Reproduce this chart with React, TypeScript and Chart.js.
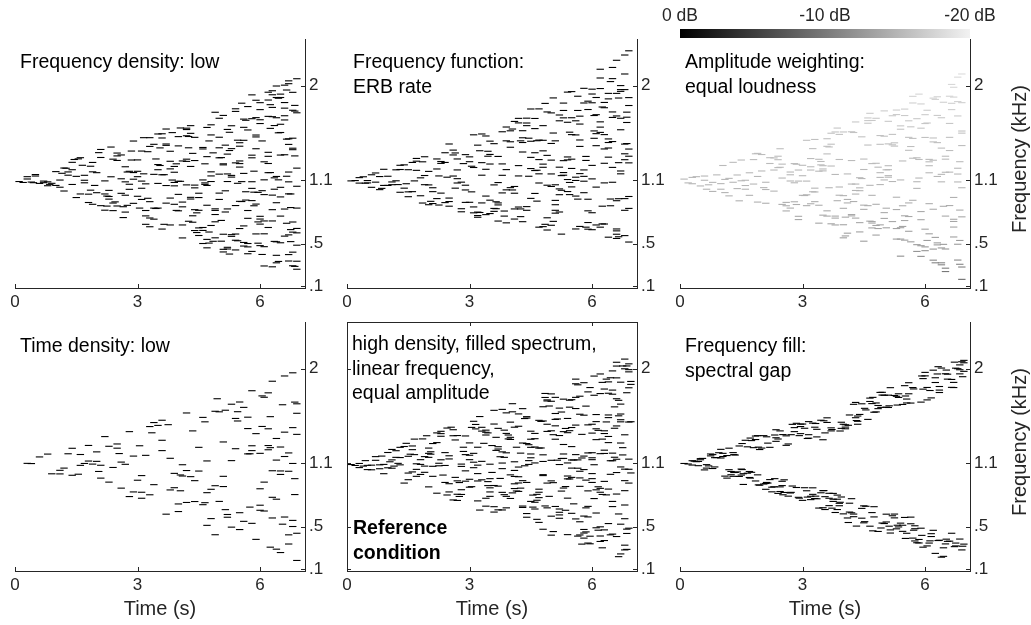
import React, { useEffect, useRef } from "react";
import { Chart, registerables } from "chart.js";

Chart.register(...registerables);

// ---------------- data ----------------
const X_TICKS = [0, 3, 6];
const Y_TICKS = [0.1, 0.5, 1.1, 2];
const Y_TICK_LABELS = [".1", ".5", "1.1", "2"];
const T_MIN = 0;
const T_MAX = 7.1;
const F_MIN = 0.08;
const F_MAX = 2.44;
const COLORBAR_DB = [0, -10, -20];
const COLORBAR_LABELS = ["0 dB", "-10 dB", "-20 dB"];
// equal-loudness weighting read from the grey levels of the third panel
const ELW_HZ = [100, 300, 500, 1000, 1500, 2000, 2500];
const ELW_DB = [-8, -11, -13, -15, -16, -18, -19];

// columns: [time (s), frequency (Hz), frequency (Hz), ...]
const TL_COLS = [[0.1,1090],[0.2,1081],[0.3,1136,1114],[0.4,1085],[0.5,1156,1142],[0.6,1072],[0.7,1079,1094],[0.8,1050,1087],[0.9,1073],[1.0,1053,1184],[1.1,1104,1036],[1.2,1218,1000],[1.3,1181,1150],[1.4,1062,1272,1202],[1.5,938,1139],[1.6,972,1316],[1.7,1102,1078,1149],[1.8,970,891],[1.9,1271,1182,874],[2.0,984,1174],[2.1,861,1394,1318],[2.2,972,818,1096],[2.3,948,1006,923],[2.4,886,814,1302],[2.5,1333,858,1290,1360],[2.6,1116,978,1342],[2.7,960,1230,1087,800],[2.8,1016,1064,1187],[2.9,1474,1112,1175,883],[3.0,950,1295,1136,1187],[3.1,1026,1379,920,1094],[3.2,764,815,1068,684],[3.3,1423,744,899,661,1506],[3.4,1443,838,733,1158],[3.5,1202,1251,1072,838,1541],[3.6,1503,1154,1543,639],[3.7,1433,1588,1052,885,1446],[3.8,678,1377,1282,1210,933],[3.9,1049,1233,874,1081,1178],[4.0,1092,812,968,1516,1428],[4.1,895,1285,850,678,555],[4.2,1583,1596,1058,1281,1524,1302],[4.3,1620,924,1233,940,1547],[4.4,625,1056,1030,823,1289,1509],[4.5,650,979,938,578,817],[4.6,502,1105,654,626,1413,1399],[4.7,1053,1603,461,1326,541,865],[4.8,1182,1628,673,1090,1532,1143],[4.9,556,708,1747,816,831,777],[5.0,980,1690,1410,1160,1315,920,1510],[5.1,1717,1248,447,1258,422,590],[5.2,830,1162,466,1090,1584,450,1350],[5.3,1148,570,1619,586,1402,1132],[5.4,1780,592,533,1267,1755,862,441],[5.5,1458,1425,902,1227,1260,1285,644],[5.6,1167,478,669,1682,512,1481,1604],[5.7,1801,741,502,1579,815,405,470],[5.8,1686,1088,427,1025,1315,909,1912,1340],[5.9,1513,1861,1401,876,593,1696,1531],[6.0,734,686,1772,482,760,1838,1640,1676],[6.1,289,594,1106,472,966,1277,716],[6.2,1174,1261,1937,1863,654,1708,1329,1367],[6.3,823,1705,716,1913,281,1793,961,1951],[6.4,518,1887,1996,889,1138,319,1695,390],[6.5,1555,1919,1035,1887,762,1633,509,944,1341],[6.6,1786,572,1839,2004,1344,1674,829,1714],[6.7,1180,973,397,1495,1442,2018,584,1087,336,2045],[6.8,1406,420,706,610,291,1392,1501,1936,1766],[6.9,1045,334,1217,258,1742,603,486,645,838,2065],
  [0.45,1079],[0.85,1063],[1.25,1216],[1.45,1299],[1.65,1244],[1.85,1235,1008],[2.05,1364],[2.25,952,857],[2.45,897],[2.65,748,851],[2.85,1294,1379],[3.05,838],[3.25,1373,931],[3.45,1304,834],[3.65,1155,684],[3.85,1554,1104],[4.05,1598,1092],[4.25,1517,713,1410],[4.45,606,793],[4.65,1077,1258,1063],[4.85,523,1362],[5.05,524,721,1317],[5.25,1557,402,1384],[5.45,1073,1482,528],[5.65,1671,914,993],[5.85,860,1188,989],[6.05,1003,1475,398],[6.25,1175,1819,1594],[6.45,1552,1106,1880,332],[6.65,1958,1140,1492,694],[6.85,1333,1758,1812,285],
  [1.15,1168],[1.55,1305],[1.95,1053],[2.35,1417,1135],[2.75,1180,864],[3.15,1163,1506],[3.55,1242,1409],[3.95,816,1258],[4.35,1357,704,765],[4.75,611,506,1475],[5.15,1002,1435,801],[5.55,900,1089,1833],[5.95,505,987,707],[6.35,522,1017,1125,1621],[6.75,520,634,972,843]];

const TM_COLS = [[0.1,1096],[0.2,1099],[0.3,1127,1075],[0.4,1135],[0.5,1077,1099],[0.6,1035,1154],[0.7,1171,1084],[0.8,1013,1137],[0.9,1206,1053],[1.0,1053,1140],[1.1,1086,1060],[1.2,1201,1097],[1.3,1244,1204,988],[1.4,1248,1027],[1.5,992,946,1202],[1.6,1271,994],[1.7,1196,1309,1283],[1.8,955,1125],[1.9,1325,1147,1060],[2.0,1186,870,1058],[2.1,994,881,1031],[2.2,1209,1304,928],[2.3,980,1262,1280],[2.4,890,1363,1271],[2.5,856,933,900,1446],[2.6,1342,1142,1388],[2.7,1200,1076,1304,1117],[2.8,1084,803,832],[2.9,1345,892,1055,1010],[3.0,1278,893,1324],[3.1,793,1533,849,1223],[3.2,767,1435,800,751],[3.3,1269,1150,1541,887],[3.4,1522,952,776,1206],[3.5,786,1347,913,1473,1256],[3.6,1058,835,1449,807],[3.7,715,1080,887,1328,868],[3.8,1149,1257,1562,982],[3.9,1011,698,1476,1203,1607],[4.0,1032,1571,1415,1467],[4.1,1660,1043,979,734,830],[4.2,1241,1646,1143,1689,848],[4.3,1505,1572,1460,1370,709],[4.4,1691,1645,817,852,1620],[4.5,930,1213,1472,1319,1778],[4.6,977,1592,1363,1194,1688],[4.7,1779,1163,657,1298,1076,1483],[4.8,1255,662,1225,1481,1381,1620],[4.9,1055,1338,746,1750,630],[5.0,1162,1043,675,1451,1293,1741],[5.1,790,911,1059,817,1476,870],[5.2,1020,801,1721,1226,965,1666],[5.3,1694,1834,1764,1175,1288,1150],[5.4,995,1652,1323,1938,1295,1109],[5.5,1943,1214,1535,1039,1302,1695],[5.6,1532,640,1131,952,1100,1666],[5.7,664,1423,1635,1484,1710,1165],[5.8,984,1974,1139,1093,1835,1200],[5.9,812,922,701,1773,1852,638],[6.0,1966,1115,794,633,1243,1920,1837],[6.1,1887,1544,1430,1037,678,1724],[6.2,657,1556,2155,1972,1606,2072,1656],[6.3,1263,687,1840,1399,1077,1790,1535],[6.4,1494,1408,562,1874,1460,1321,1926],[6.5,2066,1469,1698,1224,1750,2172,1083],[6.6,908,550,622,590,1712,640,1926,2240],[6.7,1163,1962,1581,1945,1690,1190,2000],[6.8,577,2110,1353,1962,1297,817,928,1445,2290],[6.9,1886,835,516,1811,1398,1267,948,1330,2330],
  [0.45,1074],[0.85,1025],[1.25,1061],[1.45,1069],[1.65,1096],[1.85,1277,886],[2.05,902],[2.25,1143,867],[2.45,1131],[2.65,1027,1361],[2.85,1260],[3.05,1235,992],[3.25,1382,796],[3.45,1377,1330],[3.65,832,898],[3.85,762,810],[4.05,1010,1588],[4.25,757,830,1476],[4.45,1140,1501],[4.65,1477,1197,904],[4.85,684,1831],[5.05,1883,1550,712],[5.25,1007,591,1146],[5.45,1558,966,1081],[5.65,1764,1899,923],[5.85,1328,1290,657],[6.05,1570,1716,1500],[6.25,1797,856,688],[6.45,924,860,2038],[6.65,1882,1269,927,566],[6.85,1748,1450,1700,1650]];

const TR_COLS = [[0.1,1113],[0.2,1077],[0.3,1069,1129],[0.4,1136],[0.5,1048],[0.6,1142,1102],[0.7,1059],[0.8,1082,996],[0.9,1153],[1.0,1017,1070],[1.1,1110,985],[1.2,954,1120],[1.3,1272,1083],[1.4,1152,1023],[1.5,1097,1294],[1.6,1102,1017,1052],[1.7,959,1173],[1.8,1066,1298],[1.9,895,1357,1138],[2.0,1190,1346],[2.1,1014,1083,884],[2.2,1316,1261],[2.3,1199,1314,999],[2.4,1297,1222,1330],[2.5,873,1123,1255],[2.6,892,860,811],[2.7,838,1154,1095,1180],[2.8,1260,898,1078],[2.9,729,1094,1199,760],[3.0,1145,959,1244],[3.1,1094,861,964,1481],[3.2,1199,1308,1230,879],[3.3,1489,1027,899,991],[3.4,865,1188,1301,695],[3.5,1209,1240,771,1191],[3.6,1424,1352,1496,762,812],[3.7,1548,689,1237,1444],[3.8,1560,1157,678,762,743],[3.9,960,1038,1299,1537],[4.0,836,1560,956,556,680],[4.1,920,600,887,1162],[4.2,1562,764,1066,1289,777],[4.3,971,1005,1066,1655,743],[4.4,1003,1126,700,612,1030],[4.5,866,1204,826,524,1303],[4.6,1436,1693,1643,1668,861],[4.7,1669,696,1260,650,959,710],[4.8,874,1263,673,1690,582],[4.9,1129,679,1174,1526,1443,1061],[5.0,740,1520,1760,795,1105],[5.1,1202,1447,1131,1661,1240,1146],[5.2,1438,1090,1714,710,1537],[5.3,941,644,824,544,1768,1725],[5.4,544,1105,652,382,1618,1586],[5.5,1777,765,534,1716,720],[5.6,758,1509,1666,618,887,1386],[5.7,1835,1499,1311,1898,912],[5.8,1315,1025,427,1088,1686,491],[5.9,380,805,1596,481,728,1826],[6.0,1640,1508,470,1724,638,434],[6.1,1173,594,1277,1300,1240,880],[6.2,1466,1503,344,827,1881,1292,449],[6.3,508,1894,1138,1459,489,1717],[6.4,460,1158,1407,300,1695,1087,319],[6.5,1178,762,450,236,1302,268,1330],[6.6,1899,1641,862,1384,1179,1509],[6.7,1891,939,658,732,711,1984,564],[6.8,345,1161,1712,1086,495,1848,1216,2080],[6.9,755,279,1431,162,1838,1031,1549,1569,2110],
  [0.65,1017],[1.05,1242],[1.45,907],[1.85,1353],[2.05,1032],[2.45,1225,1401],[2.85,872,1254],[3.05,957],[3.25,1402,993],[3.45,1248,1280],[3.65,1418,1031],[3.85,1597,908],[4.05,752,574],[4.25,900,1555],[4.45,1514,1118],[4.65,1737,714,1054],[4.85,1226,644],[5.05,837,651,1201],[5.25,1426,1457],[5.45,1285,860,664],[5.65,1422,1609,518],[5.85,1123,1919,1299],[6.05,1645,1766,531],[6.25,1869,319,560],[6.45,1842,855,494],[6.65,2011,1832,1772],[6.85,531,819,1278,305]];

const BL_COLS = [[0.3,1101],[0.4,1099],[0.6,1162],[0.8,1189],[0.9,1002],[1.1,1035,1001],[1.2,1056],[1.3,1192],[1.4,988,1244],[1.6,1082,1185],[1.7,1100],[1.8,1123,1271],[1.9,1094],[2.0,1210,1120],[2.1,1083,961],[2.2,1355],[2.3,1263,923],[2.4,1062],[2.5,1245,1285],[2.6,1113,866],[2.7,1092],[2.8,786,1402],[2.9,830,1170],[3.0,941],[3.1,827,985,770],[3.2,1177],[3.3,803,1450],[3.4,899,1488],[3.5,1461],[3.6,1510,1320,1222],[3.7,619],[3.8,849,1149],[3.9,870,1006],[4.0,644,716],[4.1,1088,981],[4.2,730,1579,1033],[4.3,975],[4.4,937,739],[4.5,1253,1028],[4.6,709,1537],[4.7,1124,823,513],[4.8,855,577],[4.9,424,889,1595],[5.0,740,1590],[5.1,1304,978,881],[5.2,590,616],[5.3,496,1127,1662],[5.4,1527,1240],[5.5,473,1683,633],[5.6,551,1632],[5.7,1431,1539,1191],[5.8,532,1268,1222,1790],[5.9,380,1383],[6.0,1196,656,860,704],[6.1,923,1728,649],[6.2,1230,1429,1270,1770],[6.3,779,583,1031,1880],[6.4,1337,761,1132,287],[6.5,1256,1029,255,996],[6.6,592,1397,1166,1930],[6.7,1026,1200,423,336],[6.8,502,560,1440,1100,1960],[6.9,438,1666,1376,1576,180],
  [1.55,998],[2.05,1024],[2.55,1194],[3.05,1268],[3.35,1391],[3.75,1468],[4.05,991,841],[4.35,1409],[4.65,728,1495],[4.95,1714],[5.15,1605,662],[5.45,1591,1503],[5.75,1192,686],[6.05,1451,1741],[6.25,1544,1250,306],[6.55,1657,524],[6.85,1682,956,805]];

const BM_COLS = [[0.1,1090],[0.2,1081],[0.3,1100,1061],[0.4,1075],[0.5,1042,1082],[0.6,1084,1040],[0.7,1165,1130],[0.8,1050,1087],[0.9,1091,1003],[1.0,1204,1059],[1.1,1134,1055,1233],[1.2,1158,1221],[1.3,1156,1087,1253],[1.4,1261,914],[1.5,946,1009,1168],[1.6,1020,1231,1266],[1.7,1044,978,1097],[1.8,1136,1091,996],[1.9,1165,1075,1016],[2.0,1158,1196,1246,878],[2.1,1289,978,1073],[2.2,1390,1298,818],[2.3,1383,1135,1358,1405],[2.4,920,1081,1203],[2.5,1173,1143,830,908],[2.6,1363,1420,754],[2.7,935,808,1365,749],[2.8,1072,851,806,1094],[2.9,932,1361,1030,1184],[3.0,1136,1295,950,875,1178],[3.1,1112,1500,1196,1060],[3.2,1004,745,1084,1254,934],[3.3,1407,945,1120,1443],[3.4,1396,770,1416,1370,695],[3.5,788,830,956,869,1093],[3.6,639,891,1474,1604,690],[3.7,1237,885,660,1259,1433],[3.8,659,826,1210,1051,1104,1613],[3.9,788,1201,679,1385,1580],[4.0,992,1328,1348,768,1492],[4.1,862,1116,1444,907,977,1034],[4.2,835,1066,974,915,1453,1570],[4.3,937,1294,1620,696,683],[4.4,1544,1531,590,920,1289,625],[4.5,740,1330,1253,1154,1406,1190],[4.6,1256,1335,732,1105,1385,668],[4.7,1509,827,856,1246,541,776],[4.8,1638,994,1503,476,1119,1182,985],[4.9,1472,1693,679,914,1703,1404],[5.0,935,1690,420,600,1410,1760,1130],[5.1,1457,1330,1518,1574,1727,692],[5.2,637,1625,668,580,1090,1365,612],[5.3,1402,867,1148,1710,1280,1190],[5.4,954,425,1105,981,1527,1392,771],[5.5,1056,968,1260,627,1441,1133,1705],[5.6,1621,1184,1856,574,1727,1464,1900],[5.7,422,547,1567,1738,1026,963,883],[5.8,1170,1558,392,474,1042,440,1866,601],[5.9,345,1200,1466,593,1779,693,840],[6.0,956,1388,1202,920,1472,1154,1004,1136],[6.1,1564,1326,490,630,1429,850,1497],[6.2,1763,1949,412,360,1193,864,499,827],[6.3,369,1384,930,1410,470,1806,1195,1226],[6.4,1535,857,530,1766,1298,1356,1874,1560],[6.5,1978,1126,1757,1796,691,740,1198,430],[6.6,2024,810,1912,1456,1014,407,1714,1140,2060],[6.7,524,1067,1871,1663,242,1515,1495,1569,1294],[6.8,325,706,1046,842,1372,576,280,937,1998,2090],[6.9,914,2045,1818,1493,1045,1969,1141,486,1990],
  [0.45,1127],[0.85,1170],[1.05,1116],[1.25,1101],[1.45,1291],[1.65,1331,1184],[1.85,1333],[2.05,1211,1188],[2.25,1078,1102],[2.45,801,1436],[2.65,1323,968],[2.85,1214,1254],[3.05,1442,880],[3.25,658,1545],[3.45,1390,928,890],[3.65,1348,1224],[3.85,1416,804,1158],[4.05,821,1667,1590],[4.25,866,1198],[4.45,1278,1127,1091],[4.65,751,570,807],[4.85,1764,1726,697],[5.05,918,1373,454],[5.25,838,1588,1147],[5.45,1700,1411,953,1634],[5.65,1846,1055,1134,411],[5.85,1644,451,942,679],[6.05,1929,767,1088,1747],[6.25,1869,806,300,1331],[6.45,1126,1913,997,423],[6.65,1552,216,621,1699],[6.85,2025,285,1771,477,436],
  [1.15,1075],[1.55,1188],[1.95,1363],[2.35,990],[2.55,1444],[2.75,919,787],[3.15,1428,1470],[3.35,1291],[3.55,1270,1015],[3.75,958,1164],[3.95,1333,1370],[4.15,1254,839],[4.35,1526,1078],[4.55,686,800],[4.75,1247,1499],[4.95,1645,788],[5.15,1131,1522],[5.35,1432,881,656],[5.55,1133,717],[5.75,1376,1152,335],[5.95,338,410,1820],[6.15,467,879,1414],[6.35,1494,1900,802],[6.55,1159,1637,1434],[6.75,1181,2025,1250],[6.95,1878,1010,1850,1496]];

const BR_COLS = [[0.1,1100],[0.2,1095],[0.3,1085,1126],[0.4,1117],[0.5,1135,1146],[0.6,1039],[0.7,1077],[0.8,1052,1184],[0.9,1156],[1.0,1152,1234],[1.1,980],[1.2,1245,1041],[1.3,1203,978],[1.4,1020],[1.5,990,1047],[1.6,1320],[1.7,1024,967],[1.8,1250],[1.9,992,1364],[2.0,1246],[2.1,855,910],[2.2,1253,947],[2.3,879],[2.4,1332,816],[2.5,931,890],[2.6,1272,1362],[2.7,820],[2.8,1402,1440],[2.9,779],[3.0,750,1474],[3.1,841],[3.2,789,757],[3.3,768,1444],[3.4,677],[3.5,1325,680,842],[3.6,1489,1533],[3.7,1438,1409],[3.8,635],[3.9,699,722],[4.0,622,1472],[4.1,583],[4.2,766,632],[4.3,1679,1534],[4.4,1565],[4.5,537,698],[4.6,1518],[4.7,1668,634],[4.8,1674,1589],[4.9,1774],[5.0,1747,530],[5.1,1748,1631],[5.2,604],[5.3,480,1737],[5.4,534],[5.5,1838,588],[5.6,1866,1761],[5.7,392,1820],[5.8,348],[5.9,1682,486],[6.0,1964,1931],[6.1,345],[6.2,1985,466],[6.3,1949],[6.4,211,2005],[6.5,337,1951],[6.6,363],[6.7,1869,1820],[6.8,1999],[6.9,280,2065],
  [0.35,1122],[0.55,1148],[0.75,1172,1190],[0.95,1202],[1.15,1175,961],[1.35,1180,1015],[1.55,1003,901],[1.75,1317,1016],[1.95,894,1232],[2.15,1293,914],[2.35,1420,1344,1310],[2.55,945,825],[2.75,886,1471],[2.95,1473,1450,1383],[3.15,1497,1373,1340],[3.35,1352,1424,765],[3.55,663,1390,785],[3.75,761,740,816],[3.95,1433,782,1491],[4.15,723,639,1560],[4.35,1472,1500,1550],[4.55,694,1608],[4.75,593,690,1586],[4.95,1749,1775,535],[5.15,440,470,1819],[5.35,498,1761,1726],[5.55,438,1674,1711],[5.75,481,365,509],[5.95,1805,1905,306],[6.15,434,407,1722],[6.35,1796,1830,1773,372],[6.55,1900,1947,361],[6.75,345,2004,318],[6.95,2078,335,2055,1974],
  [0.45,1079,1119],[0.65,1056,1089],[0.85,1155,1067],[1.05,1196,1166],[1.25,993,1024],[1.45,977,1266],[1.65,1258,1008],[1.85,1360,1327,934],[2.05,905,1364],[2.25,831,875],[2.45,834,1409,878],[2.65,1285,790],[2.85,872,1481],[3.05,870,1434],[3.25,1483,869,807],[3.45,822,1510],[3.65,817,700,770],[3.85,663,761,800],[4.05,1429,1467,1445],[4.25,595,620,1661],[4.45,581,674,1666],[4.65,1688,1720,505],[4.85,455,1620,1650],[5.05,619,1634,545],[5.25,584,1745,620],[5.45,1660,514,456],[5.65,1673,528,591],[5.85,346,379],[6.05,1821,318,1703],[6.25,247,1913,1868],[6.45,219,300],[6.65,1822,438,1897],[6.85,383,1989,2035,1950],
  [1.32,1184,1014],[1.52,1289,1042],[1.72,1341,961],[1.92,1255,897],[2.12,1353,920],[2.32,1370,956],[2.52,1374,803],[2.72,1373,826],[2.92,1364,771],[3.12,1337,781],[3.32,1479,790],[3.52,1505,843],[3.72,1422,676],[3.92,1408,732],[4.12,1462,540],[4.32,1507,506],[4.52,1623,548],[4.72,1727,461],[4.92,1632,488],[5.12,1647,505],[5.32,1654,514],[5.52,1740,389],[5.72,1807,467],[5.92,1930,418],[6.12,1792,366],[6.32,2018,369],[6.52,1986,382],[6.72,2061,311],[6.92,1923,315]];

// ---------------- layout ----------------
const FONT = "'Liberation Sans', Arial, Helvetica, sans-serif";
const AXIS_COLOR = "#262626";
const PAD_L = 12, PAD_T = 12, PAD_R = 44, PAD_B = 26;
const PLOT_W = 290, PLOT_H = 251;
const COL_X = [15, 347, 680];
const ROW_Y = [37, 320];
const DASH_HALF = 3.7;
const DASH_WIDTH = 1.1;

type PanelDef = {
  cols: number[][];
  col: number;
  row: number;
  box?: boolean;
  weighted?: boolean;
};

const PANELS: PanelDef[] = [
  { cols: TL_COLS, col: 0, row: 0 },
  { cols: TM_COLS, col: 1, row: 0 },
  { cols: TR_COLS, col: 2, row: 0, weighted: true },
  { cols: BL_COLS, col: 0, row: 1 },
  { cols: BM_COLS, col: 1, row: 1, box: true },
  { cols: BR_COLS, col: 2, row: 1 },
];

function weightDb(hz: number): number {
  if (hz <= ELW_HZ[0]) return ELW_DB[0];
  for (let i = 1; i < ELW_HZ.length; i++) {
    if (hz <= ELW_HZ[i]) {
      const r = (hz - ELW_HZ[i - 1]) / (ELW_HZ[i] - ELW_HZ[i - 1]);
      return ELW_DB[i - 1] + r * (ELW_DB[i] - ELW_DB[i - 1]);
    }
  }
  return ELW_DB[ELW_DB.length - 1];
}

function dbToGrey(db: number): string {
  const v = Math.round(Math.min(1, Math.max(0, -db / 20)) * 240);
  return `rgb(${v},${v},${v})`;
}

const inwardTicks = {
  id: "inwardTicks",
  afterDraw(chart: any, _args: any, opts: any) {
    const { ctx, chartArea: a, scales } = chart;
    const xs = scales.x;
    const ys = scales.y;
    const L = 4;
    ctx.save();
    ctx.strokeStyle = AXIS_COLOR;
    ctx.lineWidth = 1;
    ctx.beginPath();
    const bottom = Math.round(a.bottom);
    const right = Math.round(a.right);
    const top = Math.round(a.top);
    const left = Math.round(a.left);
    for (const t of X_TICKS) {
      const px = Math.round(xs.getPixelForValue(t)) + 0.5;
      ctx.moveTo(px, bottom);
      ctx.lineTo(px, bottom - L);
      if (opts.box) {
        ctx.moveTo(px, top);
        ctx.lineTo(px, top + L);
      }
    }
    for (const f of Y_TICKS) {
      const py = Math.round(ys.getPixelForValue(f)) + 0.5;
      ctx.moveTo(right, py);
      ctx.lineTo(right - L, py);
      if (opts.box) {
        ctx.moveTo(left, py);
        ctx.lineTo(left + L, py);
      }
    }
    if (opts.box) {
      ctx.moveTo(left + 0.5, bottom);
      ctx.lineTo(left + 0.5, top + 0.5);
      ctx.lineTo(right, top + 0.5);
    }
    ctx.stroke();
    ctx.restore();
  },
};

function Panel({ def }: { def: PanelDef }) {
  const ref = useRef<HTMLCanvasElement | null>(null);
  useEffect(() => {
    const canvas = ref.current;
    if (!canvas) return;
    const pts: { x: number; y: number }[] = [];
    const colors: string[] = [];
    for (const c of def.cols) {
      const t = c[0];
      for (let i = 1; i < c.length; i++) {
        pts.push({ x: t, y: c[i] / 1000 });
        colors.push(def.weighted ? dbToGrey(weightDb(c[i])) : "#000000");
      }
    }
    const chart = new Chart(canvas, {
      type: "scatter",
      data: {
        datasets: [
          {
            data: pts,
            pointStyle: "line",
            pointRadius: DASH_HALF,
            pointHoverRadius: DASH_HALF,
            pointBorderWidth: DASH_WIDTH,
            borderColor: (ctx: any) => colors[ctx.dataIndex] || "#000",
            backgroundColor: (ctx: any) => colors[ctx.dataIndex] || "#000",
            clip: false as any,
          } as any,
        ],
      },
      options: {
        animation: false,
        responsive: false,
        devicePixelRatio: 1,
        events: [],
        layout: { padding: { left: PAD_L, top: PAD_T, right: 0, bottom: 0 } },
        plugins: {
          legend: { display: false },
          tooltip: { enabled: false },
          inwardTicks: { box: !!def.box },
        } as any,
        scales: {
          x: {
            type: "linear",
            position: "bottom",
            min: T_MIN,
            max: T_MAX,
            grid: { display: false, drawTicks: false },
            border: { display: true, color: AXIS_COLOR, width: 1 },
            ticks: {
              color: AXIS_COLOR,
              font: { family: FONT, size: 17 },
              padding: 4,
              maxRotation: 0,
              autoSkip: false,
              callback: (v: any) => String(v),
            },
            afterBuildTicks: (s: any) => {
              s.ticks = X_TICKS.map((v) => ({ value: v }));
            },
            afterFit: (s: any) => {
              s.height = PAD_B;
            },
          },
          y: {
            type: "linear",
            position: "right",
            min: F_MIN,
            max: F_MAX,
            grid: { display: false, drawTicks: false },
            border: { display: true, color: AXIS_COLOR, width: 1 },
            ticks: {
              color: AXIS_COLOR,
              font: { family: FONT, size: 17 },
              padding: 4,
              autoSkip: false,
              callback: (v: any) => {
                const i = Y_TICKS.indexOf(v);
                return i >= 0 ? Y_TICK_LABELS[i] : "";
              },
            },
            afterBuildTicks: (s: any) => {
              s.ticks = Y_TICKS.map((v) => ({ value: v }));
            },
            afterFit: (s: any) => {
              s.width = PAD_R;
            },
          },
        },
      } as any,
      plugins: [inwardTicks as any],
    });
    return () => chart.destroy();
  }, [def]);

  const w = PLOT_W + PAD_L + PAD_R;
  const h = PLOT_H + PAD_T + PAD_B;
  return (
    <canvas
      ref={ref}
      width={w}
      height={h}
      style={{
        position: "absolute",
        left: COL_X[def.col] - PAD_L,
        top: ROW_Y[def.row] - PAD_T,
        width: w,
        height: h,
      }}
    />
  );
}

const TITLES: { x: number; y: number; lines: string[]; bold?: boolean }[] = [
  { x: 20, y: 49, lines: ["Frequency density: low"] },
  { x: 353, y: 49, lines: ["Frequency function:", "ERB rate"] },
  { x: 685, y: 49, lines: ["Amplitude weighting:", "equal loudness"] },
  { x: 20, y: 333, lines: ["Time density: low"] },
  { x: 352, y: 331, lines: ["high density, filled spectrum,", "linear frequency,", "equal amplitude"] },
  { x: 353, y: 515, lines: ["Reference", "condition"], bold: true },
  { x: 685, y: 333, lines: ["Frequency fill:", "spectral gap"] },
];

export default function App() {
  const cbLeft = COL_X[2];
  const cbWidth = PLOT_W;
  return (
    <div
      style={{
        position: "fixed",
        left: 0,
        top: 0,
        width: 1031,
        height: 625,
        background: "#ffffff",
        overflow: "hidden",
        fontFamily: FONT,
      }}
    >
      {PANELS.map((p, i) => (
        <Panel key={i} def={p} />
      ))}
      {TITLES.map((t, i) => (
        <div
          key={"t" + i}
          style={{
            position: "absolute",
            left: t.x,
            top: t.y,
            fontSize: 19.5,
            lineHeight: "24.5px",
            fontWeight: t.bold ? "bold" : "normal",
            color: "#000",
            whiteSpace: "nowrap",
          }}
        >
          {t.lines.map((l, j) => (
            <div key={j}>{l}</div>
          ))}
        </div>
      ))}
      {/* colour bar */}
      <div
        style={{
          position: "absolute",
          left: cbLeft,
          top: 29,
          width: cbWidth,
          height: 9,
          background: "linear-gradient(to right, #000000, #f2f2f2)",
        }}
      />
      {COLORBAR_DB.map((db, i) => (
        <div
          key={"cb" + i}
          style={{
            position: "absolute",
            left: cbLeft + (-db / 20) * cbWidth - 40,
            top: 4,
            width: 80,
            textAlign: "center",
            fontSize: 17.5,
            lineHeight: "22px",
            color: AXIS_COLOR,
          }}
        >
          {COLORBAR_LABELS[i]}
        </div>
      ))}
      {/* x axis titles */}
      {COL_X.map((x, i) => (
        <div
          key={"xt" + i}
          style={{
            position: "absolute",
            left: x + PLOT_W / 2 - 60,
            top: 596,
            width: 120,
            textAlign: "center",
            fontSize: 20,
            lineHeight: "24px",
            color: AXIS_COLOR,
          }}
        >
          Time (s)
        </div>
      ))}
      {/* y axis titles */}
      {ROW_Y.map((y, i) => (
        <div
          key={"yt" + i}
          style={{
            position: "absolute",
            left: 1019 - 90,
            top: y + PLOT_H / 2 - 16,
            width: 180,
            height: 24,
            textAlign: "center",
            fontSize: 20,
            lineHeight: "24px",
            color: AXIS_COLOR,
            transform: "rotate(-90deg)",
            transformOrigin: "50% 50%",
            whiteSpace: "nowrap",
          }}
        >
          Frequency (kHz)
        </div>
      ))}
    </div>
  );
}
